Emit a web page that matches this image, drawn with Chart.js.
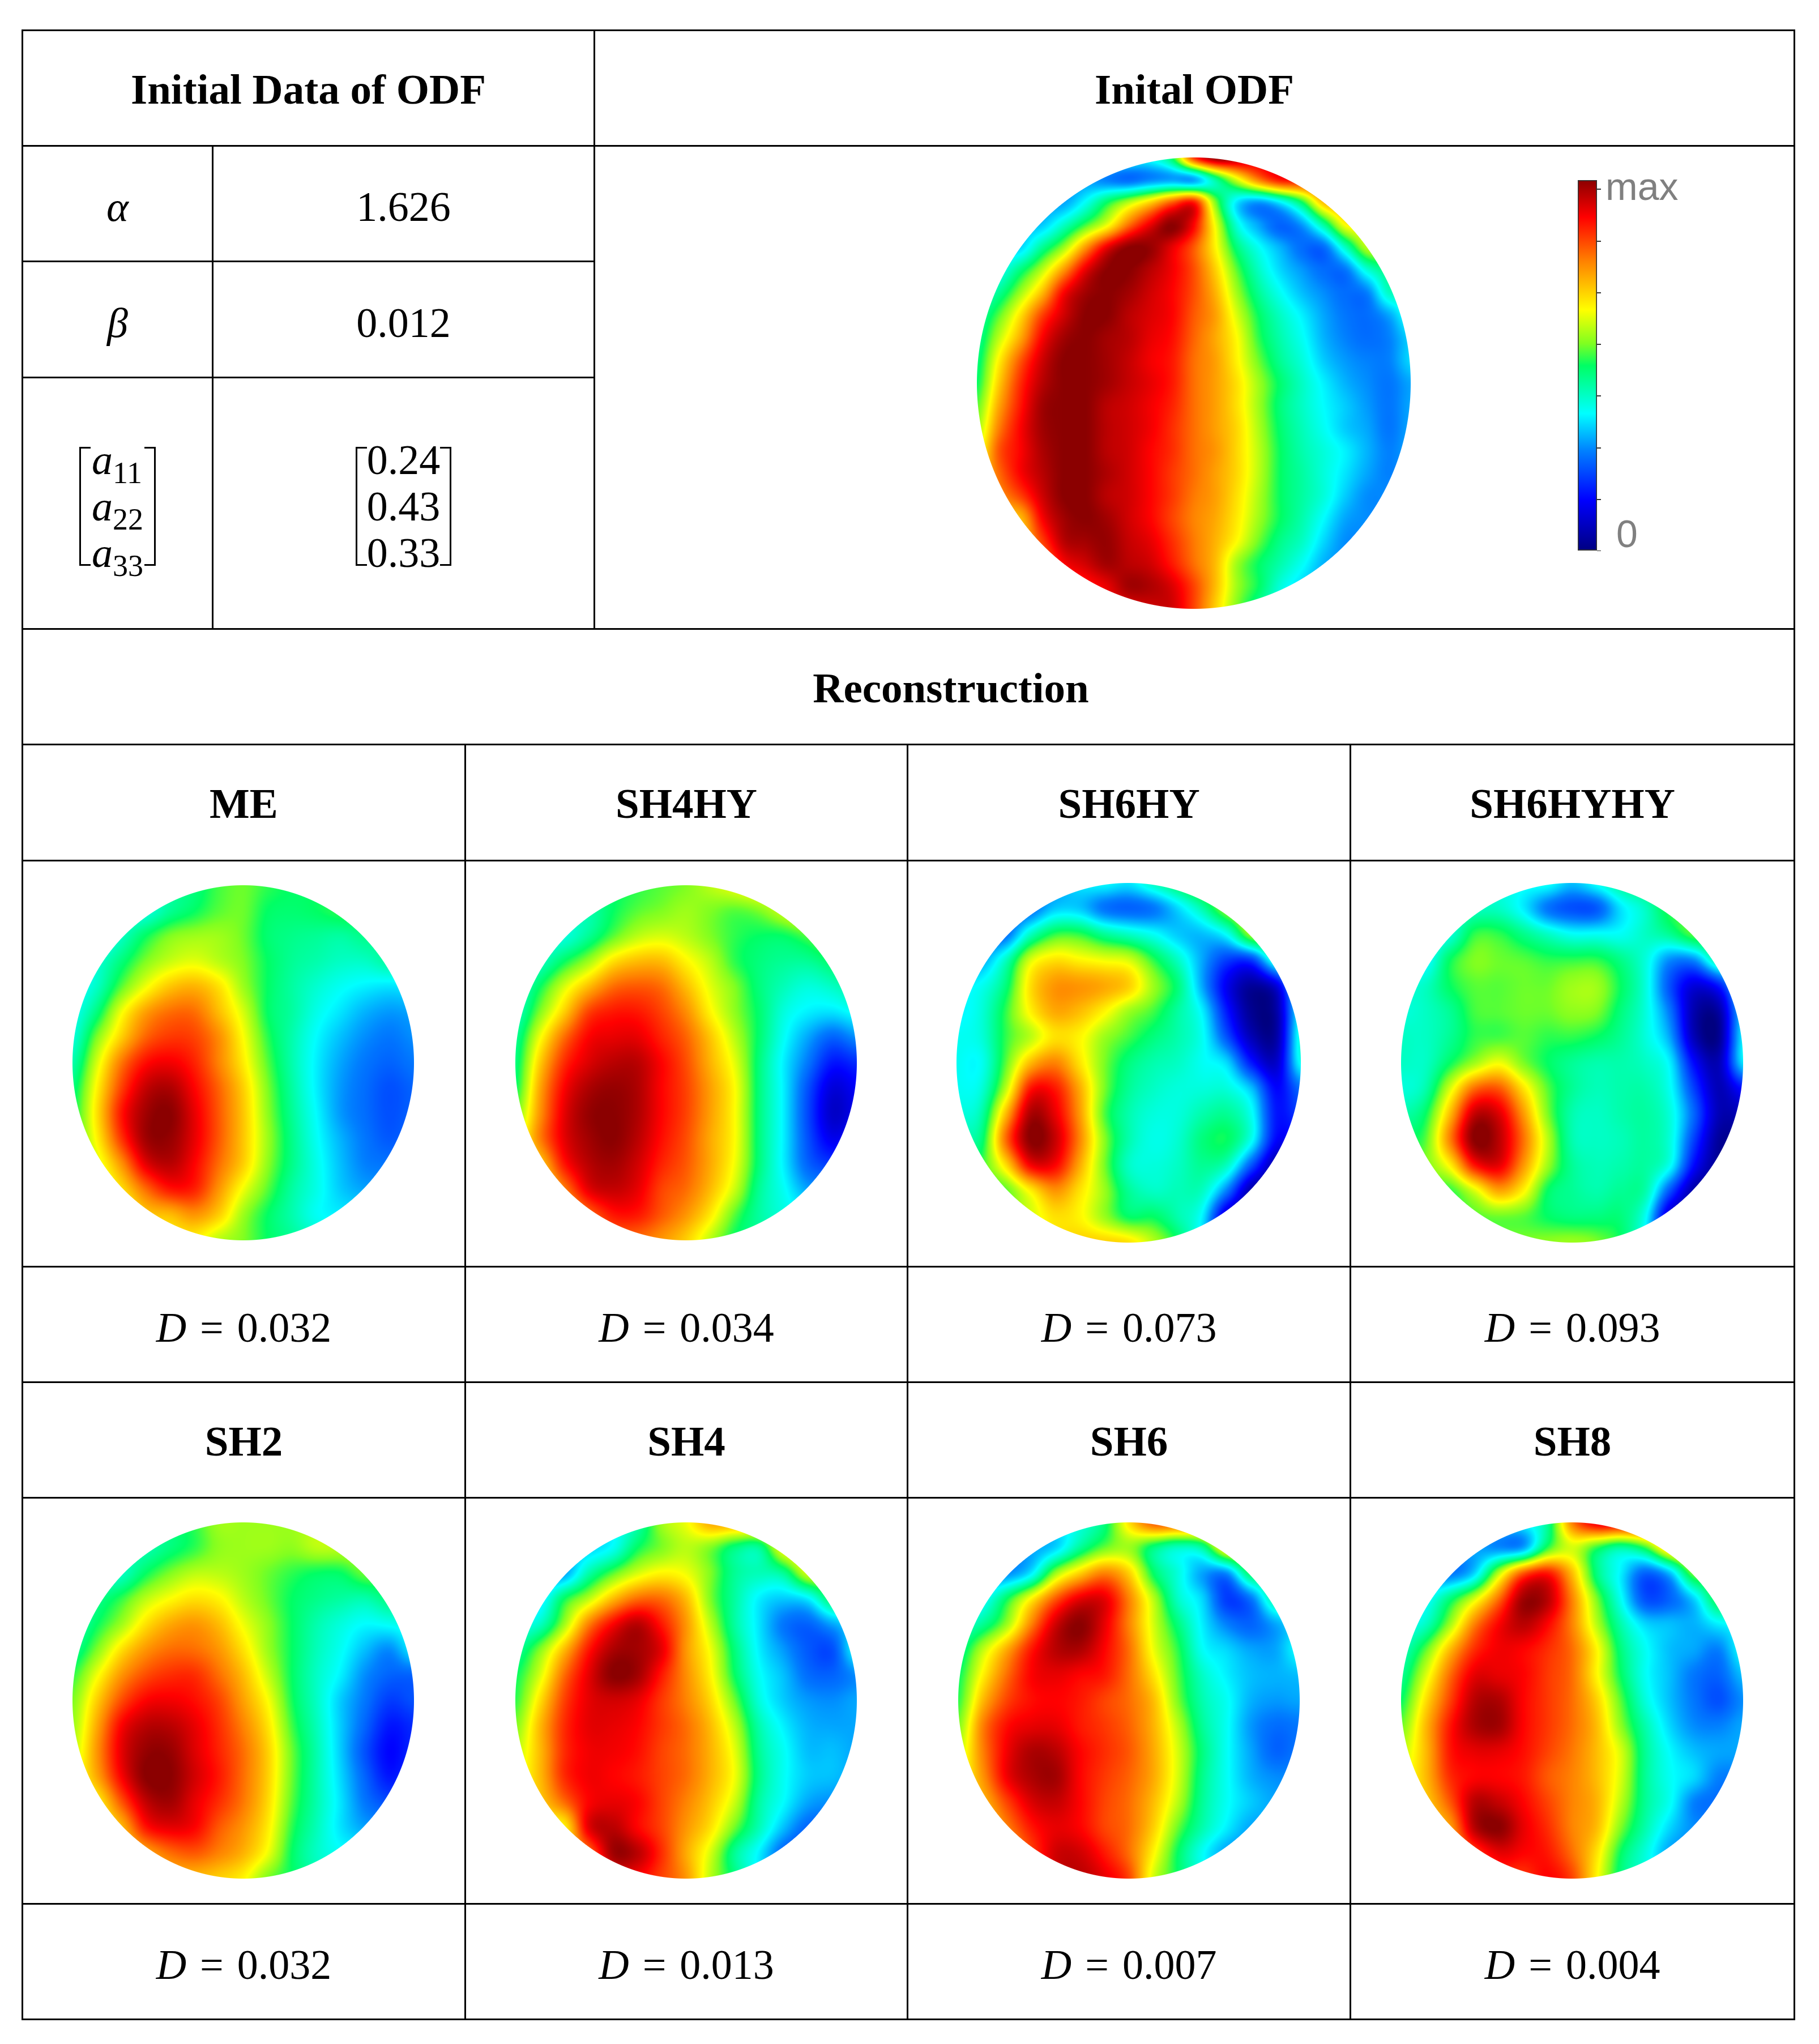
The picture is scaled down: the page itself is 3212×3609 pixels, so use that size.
<!DOCTYPE html>
<html>
<head>
<meta charset="utf-8">
<title>Initial ODF and reconstructions</title>
<script src="https://cdn.jsdelivr.net/npm/chart.js@4/dist/chart.umd.min.js"></script>
<style>
body { margin: 0; background: #fff; }
#page { position: relative; width: 3212px; height: 3609px; overflow: hidden; }
#sheet { position: absolute; left: 38px; top: 52px; width: 3129px; border-collapse: collapse; table-layout: fixed; font-family: "Liberation Serif", serif; font-size: 74px; color: #000; }
#sheet td { border: 3px solid #000; padding: 12px 0 0 0; text-align: center; vertical-align: middle; white-space: nowrap; }
#sheet td.head { font-weight: bold; font-size: 75px; padding-top: 4px; }
#sheet td.shift { padding-left: 150px; }
.eq { margin: 0 24px; }
i sub { font-style: normal; font-size: 54px; line-height: 0; }
.mat { display: inline-block; position: relative; line-height: 82px; text-align: left; }
.mat::before, .mat::after { content: ""; position: absolute; top: 18px; bottom: 18px; width: 17px; border: 3px solid #000; }
.mat::before { left: 0; border-right: none; }
.mat::after { right: 0; border-left: none; }
canvas { position: absolute; }
</style>
</head>
<body>
<div id="page">
<table id="sheet">
<colgroup><col style="width:336px"><col style="width:446px"><col style="width:228px"><col style="width:553px"><col style="width:782px"><col style="width:784px"></colgroup>
<tbody id="rows"></tbody>
</table>
</div>
<script>
// Table text
const initialParams = ['1.626', '0.012'];
const tensorLabels = ['11', '22', '33'];
const tensorValues = ['0.24', '0.43', '0.33'];
const methodsTop = ['ME', 'SH4HY', 'SH6HY', 'SH6HYHY'];
const distancesTop = ['0.032', '0.034', '0.073', '0.093'];
const methodsBottom = ['SH2', 'SH4', 'SH6', 'SH8'];
const distancesBottom = ['0.032', '0.013', '0.007', '0.004'];

// Colour bar
const colorbarRange = [0, 7.18];
const colorbarTicks = [0, 1, 2, 3, 4, 5, 6, 7];
const colorbarLabelAt = [0.28, 7];
const colorbarLabels = [' 0', 'max'];

const initialOdf = [
  [38,38,38,38,38,38,38,38,38,50,85,100,98,92,90,90,90,90,90,90,90],
  [30,30,30,30,30,30,27,25,28,30,30,45,62,78,88,88,88,88,88,88,88],
  [30,30,30,30,30,38,50,60,70,82,88,56,35,29,36,50,72,76,76,76,76],
  [32,32,32,33,42,53,64,80,92,100,90,64,40,30,24,29,45,65,66,66,66],
  [34,34,34,46,58,76,92,100,99,92,82,66,48,38,31,25,25,42,60,60,60],
  [38,38,48,60,76,92,100,100,96,91,83,70,54,42,34,29,25,26,40,48,48],
  [40,46,58,72,90,98,100,98,94,90,83,73,58,46,38,32,28,25,27,42,42],
  [44,54,68,84,94,100,100,96,93,90,82,75,62,50,42,36,30,26,25,30,40],
  [46,60,74,90,98,100,98,96,92,89,81,74,65,52,44,38,31,27,25,27,34],
  [48,66,82,94,100,100,98,95,91,88,80,75,66,55,46,40,33,29,27,27,34],
  [50,70,86,96,100,100,98,95,92,88,80,75,68,58,49,42,36,31,28,26,30],
  [54,74,88,98,100,100,96,94,91,87,80,75,68,58,48,42,37,33,29,26,30],
  [58,78,90,98,100,100,96,94,91,86,80,75,69,59,49,43,38,33,30,26,30],
  [62,82,90,97,100,100,96,94,90,86,80,76,69,60,50,44,40,36,31,27,30],
  [66,80,90,96,100,100,97,94,90,85,80,75,69,60,50,45,40,35,30,27,30],
  [68,76,84,94,100,100,96,94,90,85,79,75,68,59,50,45,40,33,28,28,30],
  [70,70,72,90,98,100,98,94,90,84,78,74,67,58,50,44,37,30,28,28,30],
  [70,70,70,84,96,98,99,95,92,86,79,73,65,55,47,42,34,28,28,28,30],
  [72,72,72,78,90,94,98,96,94,88,80,72,58,50,44,38,31,28,28,28,30],
  [74,74,74,76,84,88,92,98,97,93,84,72,58,50,40,34,30,28,28,28,30],
  [78,78,78,80,84,88,90,92,94,94,84,70,56,46,38,32,30,28,28,28,30]
];
const odfME = [
  [46,46,46,46,46,48,53,55,52,50,50,50,50,50,50],
  [40,40,40,40,46,50,54,55,50,49,50,52,52,52,52],
  [36,36,42,50,56,58,58,55,49,47,46,45,47,47,47],
  [34,40,48,56,61,63,60,56,50,46,44,42,42,45,45],
  [36,42,54,64,71,73,68,58,50,45,41,38,36,35,36],
  [38,48,64,75,80,80,72,62,50,45,39,35,31,29,30],
  [40,56,70,81,85,84,77,65,52,44,37,32,28,26,28],
  [44,62,79,89,91,87,78,67,54,44,36,30,26,24,26],
  [48,66,84,95,97,90,81,70,56,45,36,29,25,22,24],
  [50,68,88,98,100,92,82,71,57,46,37,29,25,22,24],
  [52,66,85,98,99,92,82,71,58,47,38,31,26,23,25],
  [55,62,76,92,96,90,80,70,57,47,39,32,27,26,27],
  [60,60,68,80,88,87,76,64,54,45,39,33,30,30,30],
  [60,60,62,70,72,76,70,58,50,44,38,36,36,36,36],
  [60,60,60,62,66,66,60,56,50,46,42,40,40,40,40]
];
const odfSH4HY = [
  [48,48,48,48,50,52,54,56,60,64,68,68,68,68,68],
  [44,44,44,44,50,54,56,58,56,54,56,62,68,68,68],
  [40,40,40,46,54,60,62,60,56,52,50,50,54,60,60],
  [40,42,50,58,68,72,72,66,60,52,48,46,46,50,55],
  [40,50,62,72,80,82,80,72,63,56,48,43,40,42,46],
  [42,56,70,84,88,88,84,77,66,57,49,40,36,35,38],
  [46,64,80,90,92,92,87,81,71,60,49,38,30,24,28],
  [48,70,86,93,96,96,90,83,73,63,48,36,26,16,18],
  [50,74,90,97,99,97,90,84,75,65,48,36,22,10,13],
  [55,76,92,99,100,97,90,84,75,65,48,36,21,8,12],
  [60,78,92,98,100,96,89,83,74,65,48,36,22,12,16],
  [62,70,88,96,98,94,87,82,74,64,48,36,24,20,24],
  [65,65,78,92,95,92,84,80,72,61,46,38,30,30,30],
  [70,70,70,80,88,88,82,76,67,54,45,40,38,38,38],
  [72,72,72,74,80,80,76,70,60,50,46,44,44,44,44]
];
const odfSH6HY = [
  [30,30,30,30,30,35,37,35,42,50,58,60,60,60,60],
  [24,24,24,25,33,33,26,24,26,34,44,58,62,62,62],
  [24,24,25,42,52,52,46,42,38,33,32,38,58,60,60],
  [30,30,42,62,68,66,64,62,52,42,30,20,20,42,45],
  [36,38,48,68,76,76,74,70,58,48,30,12,3,10,40],
  [36,40,52,66,74,72,66,58,53,45,36,16,2,4,38],
  [38,40,52,60,68,66,58,53,48,44,38,22,6,4,40],
  [38,38,54,72,78,68,56,48,44,42,38,34,16,8,38],
  [38,40,60,88,88,74,56,46,42,40,40,40,32,14,25],
  [40,44,72,97,92,76,54,44,40,40,44,46,38,16,20],
  [45,48,80,100,95,78,57,44,39,41,48,50,38,14,14],
  [48,52,68,90,90,74,56,42,40,42,46,42,22,4,4],
  [52,52,54,66,76,68,58,46,42,43,42,26,4,2,2],
  [60,60,60,62,68,66,58,50,50,44,36,8,4,4,4],
  [66,66,66,66,68,70,70,68,60,50,34,8,8,8,8]
];
const odfSH6HYHY = [
  [40,40,40,40,40,38,38,32,38,46,50,52,52,52,52],
  [40,40,40,42,42,36,26,22,23,35,42,52,54,54,54],
  [36,36,40,52,52,47,42,38,38,38,42,46,54,55,55],
  [36,36,50,56,55,54,52,52,52,47,40,28,28,45,45],
  [40,42,50,54,54,55,55,58,58,50,40,22,10,16,38],
  [40,42,46,53,54,55,55,57,56,48,40,26,5,4,34],
  [42,42,46,52,53,54,52,52,50,46,40,30,6,2,36],
  [42,42,50,58,64,56,50,46,44,44,42,36,14,6,35],
  [40,44,62,80,82,68,54,46,43,44,44,38,20,6,15],
  [44,50,72,95,93,76,56,44,42,44,45,40,24,6,6],
  [50,54,78,100,96,80,60,44,42,43,45,40,20,3,3],
  [54,56,66,88,92,76,58,46,43,44,45,38,14,2,2],
  [54,54,52,62,74,66,50,46,44,46,44,22,4,2,2],
  [54,54,54,54,55,54,50,48,48,48,38,8,4,4,4],
  [56,56,56,56,56,56,57,58,56,50,36,10,8,8,8]
];
const odfSH2 = [
  [46,46,46,46,48,52,58,58,58,58,60,60,60,60,60],
  [44,44,44,44,48,52,57,58,58,57,60,60,60,60,60],
  [40,40,42,50,56,60,60,58,55,52,50,50,55,55,55],
  [40,46,52,60,65,68,66,60,55,50,47,45,44,48,48],
  [42,50,58,68,74,76,72,64,57,50,44,40,37,38,40],
  [46,56,68,76,80,80,76,68,58,50,43,38,32,28,36],
  [52,64,76,83,86,86,80,72,61,50,42,36,28,24,24],
  [56,70,83,90,91,89,84,75,65,51,42,33,26,20,22],
  [58,74,90,96,96,92,86,78,68,53,43,33,24,16,18],
  [60,76,92,99,99,93,87,80,70,55,44,33,22,14,18],
  [62,74,90,100,100,94,88,80,70,55,44,34,24,16,20],
  [62,66,82,95,98,92,86,79,69,54,44,35,26,22,24],
  [64,64,72,88,92,90,82,76,67,52,43,35,30,30,30],
  [66,66,68,74,80,82,78,73,64,50,42,38,38,38,38],
  [68,68,68,70,72,72,70,66,56,50,44,42,42,42,42]
];
const odfSH4 = [
  [38,38,38,38,38,44,58,64,74,74,74,74,74,74,74],
  [34,34,34,34,38,50,56,60,56,48,46,66,70,70,70],
  [30,30,30,44,54,62,66,64,56,46,43,46,62,62,62],
  [32,34,50,60,72,80,80,72,56,45,36,33,36,50,50],
  [38,42,58,78,90,96,88,76,60,45,35,26,24,30,36],
  [45,56,72,88,97,98,92,76,64,48,36,29,23,22,38],
  [50,62,80,92,100,98,88,77,66,50,38,32,25,24,28],
  [52,68,84,92,94,92,85,78,69,55,40,33,29,28,30],
  [56,72,86,92,92,90,85,80,72,60,44,36,31,30,30],
  [60,72,86,91,91,89,84,80,73,63,46,38,32,32,30],
  [62,72,86,91,90,88,84,80,73,64,47,38,33,32,30],
  [64,70,80,90,92,90,84,78,71,61,45,37,30,28,28],
  [66,66,66,92,96,90,84,76,68,55,43,32,24,24,24],
  [70,70,70,80,98,96,86,74,62,46,36,24,20,20,20],
  [72,72,72,76,90,90,84,76,60,48,36,26,24,24,24]
];
const odfSH6 = [
  [36,36,36,36,36,40,48,68,82,82,82,82,82,82,82],
  [30,30,30,30,34,46,55,58,48,42,45,68,70,70,70],
  [28,28,28,36,58,70,78,70,50,40,30,28,50,50,50],
  [32,36,50,66,82,92,92,78,60,42,34,20,26,45,45],
  [40,46,58,78,94,100,92,78,62,48,36,27,24,30,36],
  [46,60,74,88,96,97,90,80,64,52,38,34,30,30,38],
  [50,66,80,90,92,90,88,80,68,54,42,36,32,31,32],
  [52,72,84,89,90,88,84,80,72,56,44,38,31,29,30],
  [56,78,89,92,92,88,85,81,73,60,46,38,29,25,26],
  [60,78,91,97,96,90,86,82,74,62,48,38,30,24,26],
  [62,76,91,97,98,90,85,81,74,62,47,38,31,28,28],
  [66,72,84,93,95,90,84,80,72,60,46,38,33,30,30],
  [68,68,78,88,92,90,84,80,70,55,44,36,30,30,30],
  [70,70,72,84,94,94,88,80,66,50,38,30,28,28,28],
  [72,72,72,84,94,96,92,84,62,50,40,34,32,32,32]
];
const odfSH8 = [
  [34,34,34,34,34,36,46,78,92,92,92,92,92,92,92],
  [30,30,30,30,28,30,52,62,52,45,52,72,76,76,76],
  [28,28,26,34,60,82,88,72,48,36,24,32,56,56,56],
  [32,36,48,62,80,98,96,78,56,38,22,24,34,52,52],
  [38,42,58,78,90,96,90,78,60,44,34,32,31,36,38],
  [42,54,72,86,91,90,86,80,66,48,38,32,30,27,38],
  [46,62,80,92,92,90,85,80,66,50,38,32,26,24,32],
  [50,68,84,96,97,90,85,80,70,54,40,32,26,22,28],
  [55,72,88,97,98,90,85,80,72,57,44,34,28,27,30],
  [60,72,88,92,92,89,84,79,72,62,46,37,32,30,30],
  [62,72,86,90,90,88,82,78,72,62,46,38,34,27,27],
  [65,70,82,96,95,90,84,78,73,60,46,38,27,25,25],
  [68,68,75,96,100,92,86,78,72,56,44,34,28,28,28],
  [70,70,72,84,92,90,88,80,68,50,40,30,28,28,28],
  [72,72,72,80,85,85,90,84,66,48,40,34,32,32,32]
];

// Colour map stops, position along the bar and rgb
const colormapStops = [
  [0, 0, 0, 128], [0.138, 0, 0, 255], [0.27, 0, 128, 255], [0.371, 0, 255, 255],
  [0.45, 0, 255, 160], [0.5, 0, 255, 100], [0.56, 128, 255, 32], [0.65, 255, 255, 0],
  [0.783, 255, 128, 0], [0.9, 255, 0, 0], [1, 139, 0, 0]
];

// Where each chart sits on the page: left, top, width, height
const sphereLayout = [
  [initialOdf, 1725, 278, 766, 797],
  [odfME, 128, 1563, 603, 627],
  [odfSH4HY, 910, 1563, 603, 627],
  [odfSH6HY, 1689, 1559, 608, 635],
  [odfSH6HYHY, 2474, 1559, 604, 635],
  [odfSH2, 128, 2688, 603, 629],
  [odfSH4, 910, 2688, 603, 629],
  [odfSH6, 1692, 2688, 603, 629],
  [odfSH8, 2474, 2688, 604, 629]
];

// Build the table
function tensorCell(cells) {
  return '<span class="mat" style="padding:0 ' + cells.pad + 'px">' + cells.lines.join('<br>') + '</span>';
}

function buildTable() {
  const headRow = names => names.map((n, i) => `<td class="head" colspan="${i < 2 ? 2 : 1}">${n}</td>`).join('');
  const distRow = vals => vals.map((v, i) => `<td colspan="${i < 2 ? 2 : 1}"><i>D</i><span class="eq">=</span>${v}</td>`).join('');
  const blankRow = () => '<td colspan="2"></td><td colspan="2"></td><td></td><td></td>';
  const a = tensorLabels.map(l => `<i>a<sub>${l}</sub></i>`);
  document.getElementById('rows').innerHTML = `
    <tr style="height:204px"><td class="head" colspan="3">Initial Data of ODF</td><td class="head" colspan="3">Inital ODF</td></tr>
    <tr style="height:204px"><td><i>α</i></td><td colspan="2">${initialParams[0]}</td><td colspan="3" rowspan="3"></td></tr>
    <tr style="height:205px"><td><i>β</i></td><td colspan="2">${initialParams[1]}</td></tr>
    <tr style="height:444px"><td>${tensorCell({ lines: a, pad: 22 })}</td><td colspan="2">${tensorCell({ lines: tensorValues, pad: 20 })}</td></tr>
    <tr style="height:204px"><td class="head shift" colspan="6">Reconstruction</td></tr>
    <tr style="height:205px">${headRow(methodsTop)}</tr>
    <tr style="height:717px">${blankRow()}</tr>
    <tr style="height:204px">${distRow(distancesTop)}</tr>
    <tr style="height:204px">${headRow(methodsBottom)}</tr>
    <tr style="height:717px">${blankRow()}</tr>
    <tr style="height:204px">${distRow(distancesBottom)}</tr>`;
}

// Colour lookup for 0-1
function colormap(t) {
  let k = 1;
  while (k < colormapStops.length - 1 && colormapStops[k][0] < t) k++;
  const a = colormapStops[k - 1], b = colormapStops[k];
  const f = Math.min(1, Math.max(0, (t - a[0]) / (b[0] - a[0])));
  return [a[1] + (b[1] - a[1]) * f, a[2] + (b[2] - a[2]) * f, a[3] + (b[3] - a[3]) * f];
}
const colorLut = [];
for (let i = 0; i <= 1000; i++) colorLut.push(colormap(i / 1000));

function catmull(p0, p1, p2, p3, t) {
  return p1 + 0.5 * t * (p2 - p0 + t * (2 * p0 - 5 * p1 + 4 * p2 - p3 + t * (3 * (p1 - p2) + p3 - p0)));
}

// Paints the scatter cells of a dataset as a smooth shaded disc that fills the chart area
const sphereField = {
  id: 'sphereField',
  beforeDatasetsDraw(chart) {
    const cells = chart.data.datasets[0].data;
    const n = Math.round(Math.sqrt(cells.length));
    const { left, top, width, height } = chart.chartArea;
    const xs = chart.scales.x, ys = chart.scales.y;
    const level = (i, j) => {
      i = Math.max(0, Math.min(n - 1, i));
      j = Math.max(0, Math.min(n - 1, j));
      return cells[i * n + j].v;
    };
    const w = Math.round(width), h = Math.round(height);
    const off = document.createElement('canvas');
    off.width = w; off.height = h;
    const octx = off.getContext('2d');
    const img = octx.createImageData(w, h);
    const rx = width / 2, ry = height / 2;
    for (let py = 0; py < h; py++) {
      const row = ys.getValueForPixel(top + py + 0.5);
      const i0 = Math.floor(row), ty = row - i0;
      for (let px = 0; px < w; px++) {
        const dx = (px + 0.5 - rx) / rx, dy = (py + 0.5 - ry) / ry;
        const r = Math.sqrt(dx * dx + dy * dy);
        const alpha = Math.min(1, Math.max(0, (1 - r) * rx + 0.5));
        if (alpha <= 0) continue;
        const col = xs.getValueForPixel(left + px + 0.5);
        const j0 = Math.floor(col), tx = col - j0;
        const rows = [-1, 0, 1, 2].map(di => catmull(level(i0 + di, j0 - 1), level(i0 + di, j0), level(i0 + di, j0 + 1), level(i0 + di, j0 + 2), tx));
        const v = catmull(rows[0], rows[1], rows[2], rows[3], ty);
        const c = colorLut[Math.max(0, Math.min(1000, Math.round(v * 10)))];
        const o = (py * w + px) * 4;
        img.data[o] = c[0]; img.data[o + 1] = c[1]; img.data[o + 2] = c[2];
        img.data[o + 3] = alpha * 255;
      }
    }
    octx.putImageData(img, 0, 0);
    chart.ctx.drawImage(off, left, top);
  }
};

function addCanvas(left, top, width, height) {
  const canvas = document.createElement('canvas');
  canvas.width = width;
  canvas.height = height;
  canvas.style.cssText = `left:${left}px;top:${top}px;width:${width}px;height:${height}px`;
  document.getElementById('page').appendChild(canvas);
  return canvas;
}

function drawSphere([grid, left, top, width, height]) {
  const n = grid.length;
  new Chart(addCanvas(left, top, width, height), {
    type: 'scatter',
    data: { datasets: [{ data: grid.flatMap((row, i) => row.map((v, j) => ({ x: j, y: i, v }))), pointRadius: 0 }] },
    options: {
      responsive: false, animation: false, devicePixelRatio: 1,
      layout: { padding: 0, autoPadding: false },
      plugins: { legend: { display: false }, tooltip: { enabled: false } },
      scales: {
        x: { type: 'linear', display: false, min: 0, max: n - 1 },
        y: { type: 'linear', display: false, min: 0, max: n - 1, reverse: true }
      }
    },
    plugins: [sphereField]
  });
}

function drawColorbar() {
  const barWidth = 34, tickWidth = 7, labelWidth = 170, headroom = 40;
  new Chart(addCanvas(2786, 318 - headroom, barWidth + tickWidth + labelWidth, 655 + headroom), {
    type: 'bar',
    data: {
      labels: ['level'],
      datasets: [{
        data: [colorbarRange],
        barPercentage: 1, categoryPercentage: 1,
        borderColor: '#333', borderWidth: 2, borderSkipped: false,
        backgroundColor(ctx) {
          const area = ctx.chart.chartArea;
          if (!area) return '#000';
          const g = ctx.chart.ctx.createLinearGradient(0, area.bottom, 0, area.top);
          colormapStops.forEach(s => g.addColorStop(s[0], `rgb(${s[1]},${s[2]},${s[3]})`));
          return g;
        }
      }]
    },
    options: {
      responsive: false, animation: false, devicePixelRatio: 1,
      layout: { padding: { top: headroom }, autoPadding: false },
      plugins: { legend: { display: false }, tooltip: { enabled: false } },
      scales: {
        x: { display: false },
        y: {
          position: 'right', weight: 0, min: colorbarRange[0], max: colorbarRange[1],
          afterFit(s) { s.width = tickWidth; },
          afterBuildTicks(s) { s.ticks = colorbarTicks.map(v => ({ value: v })); },
          grid: { drawOnChartArea: false, tickLength: tickWidth, color: '#333', lineWidth: 2 },
          border: { display: false },
          ticks: { display: false }
        },
        labels: {
          position: 'right', weight: 1, min: colorbarRange[0], max: colorbarRange[1],
          // the tall labels would otherwise pull the bar in at both ends
          afterFit(s) { s.width = labelWidth; s.paddingTop = 0; s.paddingBottom = 0; },
          afterBuildTicks(s) { s.ticks = colorbarLabelAt.map(v => ({ value: v })); },
          grid: { display: false },
          border: { display: false },
          ticks: {
            padding: 0, color: '#808080', autoSkip: false,
            font: { family: 'Liberation Sans', size: 68 },
            callback: (v, i) => colorbarLabels[i]
          }
        }
      }
    }
  });
}

buildTable();
sphereLayout.forEach(drawSphere);
drawColorbar();
</script>
</body>
</html>
